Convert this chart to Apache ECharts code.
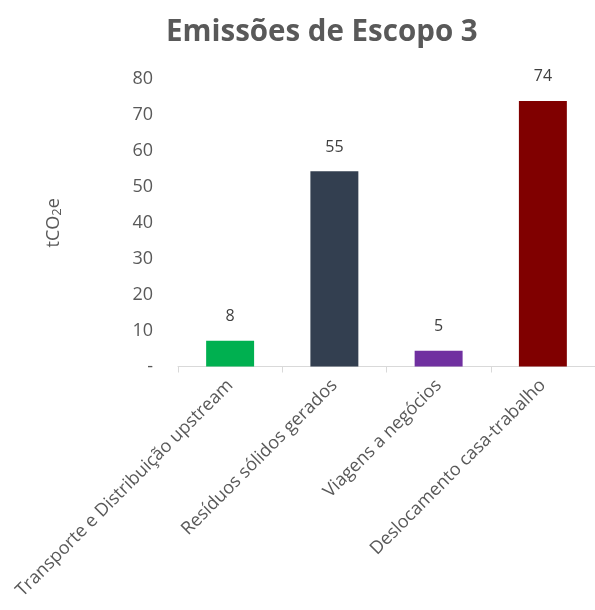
<!DOCTYPE html>
<html>
<head>
<meta charset="utf-8">
<script src="https://cdn.jsdelivr.net/npm/echarts@6/dist/echarts.min.js"></script>
<style>html,body{margin:0;padding:0;background:#fff}#c{width:595px;height:610px}</style>
</head>
<body>
<div id="c"></div>
<script>
const categories = ['Transporte e Distribuição upstream', 'Resíduos sólidos gerados', 'Viagens a negócios', 'Deslocamento casa-trabalho'];
const values = [7.2, 54.3, 4.4, 73.9];
const valueLabels = ['8', '55', '5', '74'];
const colors = ['#00B050', '#333F50', '#7030A0', '#800000'];
const yTicks = [0, 10, 20, 30, 40, 50, 60, 70, 80];

const FONT = 'Open Sans';
const chart = echarts.init(document.getElementById('c'));
chart.setOption({
  animation: false,
  textStyle: { fontFamily: FONT },
  title: {
    text: 'Emissões de Escopo 3',
    left: 161,
    top: 13,
    textStyle: { fontFamily: FONT, fontSize: 29.5, fontWeight: 'bold', color: '#595959' }
  },
  grid: { left: 178, right: 0, top: 79, bottom: 243.5 },
  xAxis: {
    type: 'category',
    data: categories,
    axisLine: { lineStyle: { color: '#D9D9D9', width: 1 } },
    axisTick: { show: true, length: 6, lineStyle: { color: '#D9D9D9' } },
    axisLabel: { rotate: 45, color: '#595959', fontSize: 18, fontFamily: FONT, margin: 16, interval: 0 }
  },
  yAxis: {
    type: 'value',
    min: yTicks[0],
    max: yTicks[yTicks.length - 1],
    interval: 10,
    name: '{a|tCO}{s|2}{a|e}',
    nameLocation: 'middle',
    nameRotate: 90,
    nameGap: 114,
    nameTextStyle: {
      color: '#595959', fontFamily: FONT,
      rich: {
        a: { fontSize: 18, color: '#595959', fontFamily: FONT },
        s: { fontSize: 13, color: '#595959', fontFamily: FONT, padding: [7, 0, 0, 0] }
      }
    },
    axisLine: { show: false },
    axisTick: { show: false },
    splitLine: { show: false },
    axisLabel: {
      color: '#595959', fontSize: 18, fontFamily: FONT, margin: 25,
      formatter: v => (v === 0 ? '-' : String(v))
    }
  },
  series: [{
    type: 'bar',
    barWidth: '46%',
    data: values.map((v, i) => ({ value: v, itemStyle: { color: colors[i] } })),
    label: {
      show: true,
      position: 'top',
      distance: 16,
      color: '#404040',
      fontSize: 16,
      fontFamily: FONT,
      formatter: p => valueLabels[p.dataIndex]
    }
  }]
});
</script>
</body>
</html>
